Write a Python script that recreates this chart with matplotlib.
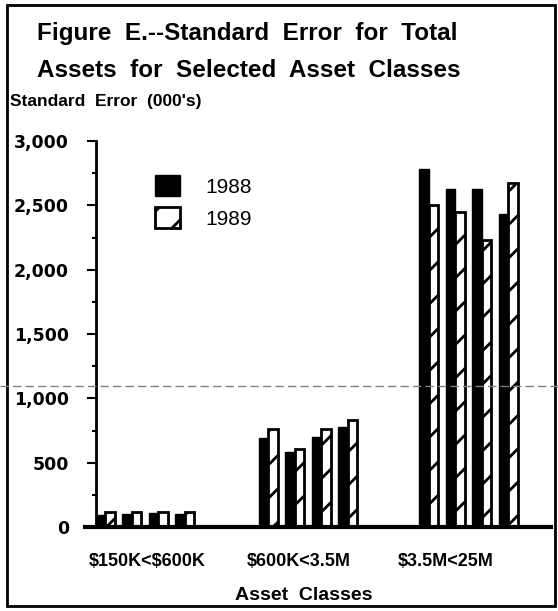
import numpy as np
import matplotlib
matplotlib.use("Agg")
import matplotlib.pyplot as plt
from matplotlib.patches import Rectangle
from matplotlib.lines import Line2D
from matplotlib.ticker import MultipleLocator, FuncFormatter

# data (standard error, thousands of dollars)
classes = ["\\$150K<\\$600K", "\\$600K<3.5M", "\\$3.5M<25M"]
se_1988 = [[95, 100, 105, 100],
           [690, 580, 700, 780],
           [2780, 2630, 2630, 2430]]
se_1989 = [[115, 120, 115, 120],
           [760, 610, 760, 830],
           [2500, 2450, 2230, 2670]]
years = ["1988", "1989"]

BOLD = ["Liberation Sans", "DejaVu Sans"]
plt.rcParams["hatch.linewidth"] = 2.0

W, H = 558, 611
fig = plt.figure(figsize=(W / 100, H / 100), dpi=100)

def fx(px):
	return px / W

def fy(py):
	return 1 - py / H

# axes box: x from 85 to 551 px, y from 141 to 527 px
ax = fig.add_axes([fx(85), fy(527), fx(551) - fx(85), fy(141) - fy(527)])

group_x = [0.0, 6.15, 12.2]
offsets = np.array([-1.5, -0.5, 0.5, 1.5])
bw = 0.36

for g, cx in enumerate(group_x):
	xs = cx + offsets
	b1 = ax.bar(xs - bw / 2, se_1988[g], width=bw, color="black",
		edgecolor="black", linewidth=1)
	b2 = ax.bar(xs + bw / 2, se_1989[g], width=bw, color="white",
		edgecolor="black", linewidth=2, hatch="/")

ax.set_xlim(-2.26, 15.32)
ax.set_ylim(0, 3000)

for s in ["top", "right"]:
	ax.spines[s].set_visible(False)
ax.spines["left"].set_position(("data", -1.85))
ax.spines["left"].set_linewidth(2)
ax.spines["bottom"].set_linewidth(3)

ax.yaxis.set_major_locator(MultipleLocator(500))
ax.yaxis.set_minor_locator(MultipleLocator(250))
ax.yaxis.set_major_formatter(FuncFormatter(lambda v, p: "{:,}".format(int(v))))
ax.tick_params(axis="y", which="major", length=6.5, width=1.5, pad=13)
ax.tick_params(axis="y", which="minor", length=3, width=1.5)
for lab in ax.get_yticklabels():
	lab.set_fontfamily("DejaVu Sans")
	lab.set_fontweight("bold")
	lab.set_fontsize(12.5)

ax.set_xticks([0.09, 5.81, 11.36])
ax.set_xticklabels(classes, fontfamily=BOLD, fontweight="bold", fontsize=13)
ax.tick_params(axis="x", length=0, pad=19)

ax.legend([b1, b2], years, loc="upper left", frameon=False,
	bbox_to_anchor=(fx(155), fy(175)), bbox_transform=fig.transFigure,
	borderpad=0, borderaxespad=0, handlelength=1.2, handleheight=1.2,
	handletextpad=1.2, labelspacing=0.5,
	prop={"family": "Liberation Sans", "size": 15})

# the original typesetting has wide gaps between words
fig.text(fx(37), fy(40), "Figure  E.--Standard  Error  for  Total",
	fontfamily=BOLD, fontweight="bold", fontsize=17.5, va="baseline")
fig.text(fx(37), fy(77), "Assets  for  Selected  Asset  Classes",
	fontfamily=BOLD, fontweight="bold", fontsize=17.5, va="baseline")
fig.text(fx(10), fy(106), "Standard  Error  (000's)",
	fontfamily=BOLD, fontweight="bold", fontsize=12.5, va="baseline")
fig.text(fx(304), fy(600), "Asset  Classes",
	fontfamily=BOLD, fontweight="bold", fontsize=14, va="baseline", ha="center")

# page border and the fold mark of the scan
fig.add_artist(Rectangle((fx(7), fy(606)), fx(555) - fx(7), fy(5) - fy(606),
	transform=fig.transFigure, fill=False, edgecolor="black", linewidth=2))
fig.add_artist(Line2D([0, 1], [fy(386), fy(386)], transform=fig.transFigure,
	color="#808080", linewidth=1, dashes=(6, 3), zorder=5))

fig.savefig("out.png", dpi=100)
